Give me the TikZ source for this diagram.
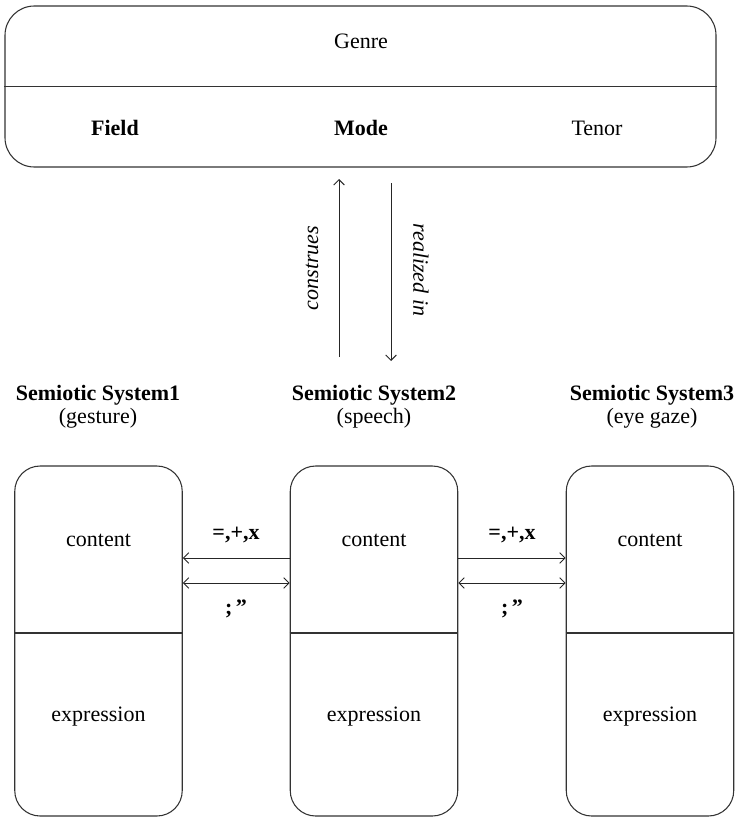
\documentclass[tikz,border=0pt]{standalone}
\usepackage{fontspec}
\setmainfont{Liberation Serif}
\usetikzlibrary{arrows.meta}
\begin{document}
\begin{tikzpicture}[x=0.75pt,y=-0.75pt,
  bigbox/.style={draw=black!80, line width=0.8pt, rounded corners=22pt, inner sep=0pt,
    minimum width=533.25pt, minimum height=120.75pt},
  sysbox/.style={draw=black!80, line width=0.8pt, rounded corners=19pt, inner sep=0pt,
    minimum width=125.6pt, minimum height=262.5pt},
  divider/.style={draw=black!80, line width=0.8pt},
  lbl/.style={font=\fontsize{16.5}{19}\selectfont, inner sep=0pt},
  blbl/.style={font=\fontsize{16.5}{19}\selectfont\bfseries, inner sep=0pt},
  ilbl/.style={font=\fontsize{16.5}{19}\selectfont\itshape, inner sep=0pt},
  arr/.style={draw=black!85, line width=0.7pt, -{Straight Barb[length=4pt,width=8pt]}},
  darr/.style={draw=black!85, line width=0.7pt, {Straight Barb[length=4pt,width=8pt]}-{Straight Barb[length=4pt,width=8pt]}},
]
\useasboundingbox (0,0) rectangle (737,821);

% top box
\node[bigbox] (genrebox) at (360.5,86.5) {};
\draw[divider] (genrebox.west) -- (genrebox.east);
\node[lbl] (genre) at (361,41) {Genre};
\node[blbl] (field) at (115,128) {Field};
\node[blbl] (mode) at (361,128) {Mode};
\node[lbl] (tenor) at (597,128) {Tenor};

% vertical arrows
\coordinate (upS) at (339,357);
\coordinate (upE) at (339,179);
\coordinate (dnS) at (391,183);
\coordinate (dnE) at (391,361);
\draw[arr] (upS) -- (upE);
\draw[arr] (dnS) -- (dnE);
\node[ilbl, rotate=90] (construes) at (312,268) {construes};
\node[ilbl, rotate=-90] (realized) at (421,270) {realized in};

% semiotic system labels
\node[blbl] (s1) at (98,395) {Semiotic System1};
\node[lbl] (s1b) at (98,418) {(gesture)};
\node[blbl] (s2) at (374,395) {Semiotic System2};
\node[lbl] (s2b) at (374,418) {(speech)};
\node[blbl] (s3) at (652,395) {Semiotic System3};
\node[lbl] (s3b) at (652,418) {(eye gaze)};

% boxes
\node[sysbox] (b1) at (98.5,641) {};
\node[sysbox] (b2) at (374,641) {};
\node[sysbox] (b3) at (650,641) {};
\coordinate (dv) at (0,633);
\foreach \b in {b1,b2,b3}{
  \draw[divider] (\b.west |- dv) -- (\b.east |- dv);
  \node[lbl] at (\b.center |- 0,540) {content};
  \node[lbl] at (\b.center |- 0,717) {expression};
}

% horizontal arrows
\coordinate (ya) at (0,558);
\coordinate (yb) at (0,583);
\draw[arr] (b2.west |- ya) -- (b1.east |- ya);
\draw[darr] (b1.east |- yb) -- (b2.west |- yb);
\draw[arr] (b2.east |- ya) -- (b3.west |- ya);
\draw[darr] (b2.east |- yb) -- (b3.west |- yb);
\node[blbl] (op1) at (236,535) {=,+,x};
\node[blbl] (pu1) at (236,609) {;\,”};
\node[blbl] (op2) at (512,535) {=,+,x};
\node[blbl] (pu2) at (512,609) {;\,”};
\end{tikzpicture}
\end{document}
